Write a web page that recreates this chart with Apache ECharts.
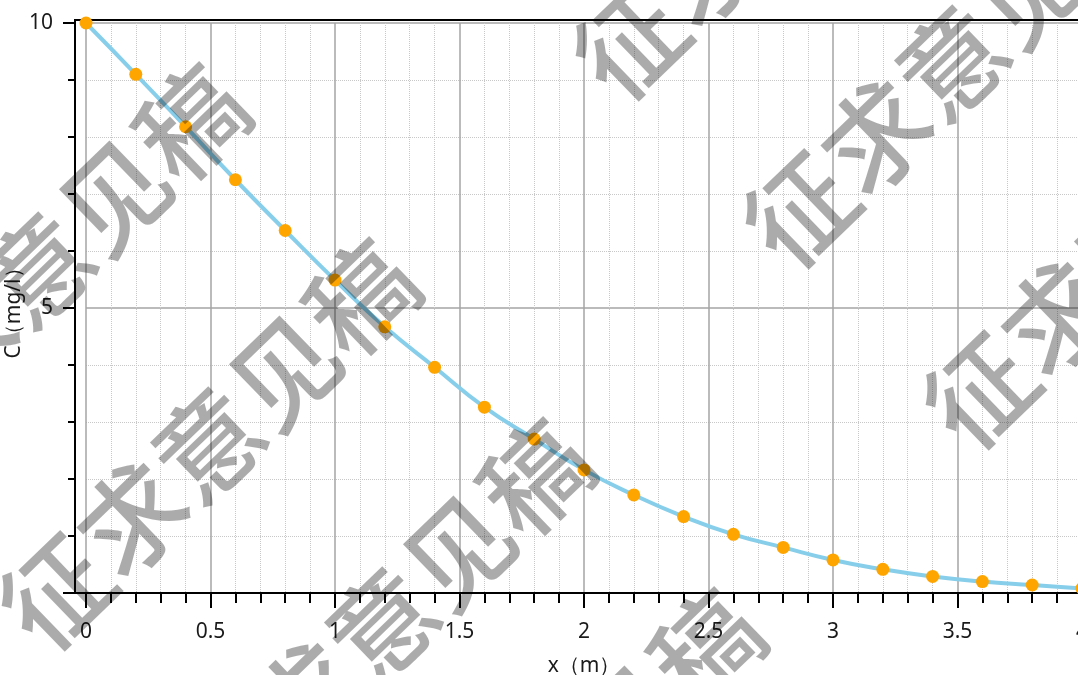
<!DOCTYPE html>
<html>
<head>
<meta charset="utf-8">
<title>C–x</title>
<script src="https://cdn.jsdelivr.net/npm/echarts@6/dist/echarts.min.js"></script>
<style>
  html, body { margin: 0; padding: 0; overflow: hidden; background: #fff; }
  #chart { width: 1100px; height: 675px; }
</style>
</head>
<body>
<div id="chart"></div>
<script>
// Sampled positions (m) and concentration values (mg/l)
const positions = [0, 0.2, 0.4, 0.6, 0.8, 1.0, 1.2, 1.4, 1.6, 1.8, 2.0,
                   2.2, 2.4, 2.6, 2.8, 3.0, 3.2, 3.4, 3.6, 3.8, 4.0];
const concentration = [10.0, 9.10, 8.18, 7.25, 6.36, 5.49, 4.67, 3.96, 3.26, 2.70, 2.16,
                       1.72, 1.34, 1.03, 0.80, 0.58, 0.415, 0.29, 0.20, 0.14, 0.08];

const xTitle = 'x（m）';
const yTitle = 'C（mg/l）';
const stampText = '征求意见稿';

// Centres of the first glyph of each repeated stamp, in page pixels
const stampAnchors = [
  [56, 592], [-114, 417], [800, 210], [630, 42], [980, 391], [230, 772], [401, 942]
];

const labelFont = '"Noto Sans", "Open Sans", sans-serif';
const stampSize = 106;
const stampAngle = 44 * Math.PI / 180;

const seriesData = positions.map((x, i) => [x, concentration[i]]);

const stampGraphics = stampAnchors.map(([cx, cy]) => ({
  type: 'text',
  z: 100,
  silent: true,
  x: cx - 0.5 * stampSize * Math.cos(stampAngle),
  y: cy + 0.5 * stampSize * Math.sin(stampAngle),
  rotation: stampAngle,
  style: {
    text: stampText,
    font: '500 ' + stampSize + 'px "Noto Sans CJK SC"',
    fill: 'rgba(0,0,0,0.33)',
    align: 'left',
    verticalAlign: 'middle'
  }
}));

const chart = echarts.init(document.getElementById('chart'), null, { renderer: 'canvas' });

chart.setOption({
  animation: false,
  backgroundColor: '#fff',
  grid: {
    left: 86, top: 23, right: 18, bottom: 82,
    containLabel: false,
    outerBoundsMode: 'none'
  },
  xAxis: {
    type: 'value',
    min: 0, max: 4, interval: 0.5,
    axisLine: { show: true, onZero: false, lineStyle: { color: '#000', width: 2 } },
    axisTick: { show: true, length: 15, lineStyle: { color: '#000', width: 2 } },
    minorTick: { show: true, splitNumber: 5, length: 10, lineStyle: { color: '#000', width: 2 } },
    splitLine: { show: true, lineStyle: { color: '#a4a4a4', width: 1.5 } },
    minorSplitLine: { show: true, lineStyle: { color: '#c8c8c8', width: 1, type: 'dotted' } },
    axisLabel: { margin: 29, fontSize: 21, color: '#1a1a1a', fontFamily: labelFont },
    name: xTitle,
    nameLocation: 'middle',
    nameGap: 63,
    nameMoveOverlap: false,
    nameTextStyle: { fontSize: 21, color: '#1a1a1a', fontFamily: labelFont }
  },
  yAxis: {
    type: 'value',
    min: 0, max: 10, interval: 5,
    offset: 11,
    axisLine: { show: true, onZero: false, lineStyle: { color: '#000', width: 2 } },
    axisTick: { show: true, length: 12, lineStyle: { color: '#000', width: 2 } },
    minorTick: { show: true, splitNumber: 5, length: 7, lineStyle: { color: '#000', width: 2 } },
    splitLine: { show: true, lineStyle: { color: '#a4a4a4', width: 1.5 } },
    minorSplitLine: { show: true, lineStyle: { color: '#c8c8c8', width: 1, type: 'dotted' } },
    axisLabel: {
      margin: 22, fontSize: 21, color: '#1a1a1a', fontFamily: labelFont,
      formatter: v => (v === 0 ? '' : String(v))
    },
    name: yTitle,
    nameLocation: 'middle',
    nameGap: 50,
    nameMoveOverlap: false,
    nameTextStyle: { fontSize: 21, color: '#1a1a1a', fontFamily: labelFont }
  },
  series: [{
    type: 'line',
    data: seriesData,
    smooth: true,
    symbol: 'circle',
    symbolSize: 13,
    itemStyle: { color: '#ffa500' },
    lineStyle: { color: '#87ceeb', width: 4 },
    z: 5
  }],
  graphic: [
    {
      // plot frame
      type: 'rect',
      z: 4,
      silent: true,
      shape: { x: 75, y: 20, width: 1040, height: 573 },
      style: { fill: 'none', stroke: '#000', lineWidth: 2 }
    }
  ].concat(stampGraphics)
});
</script>
</body>
</html>
